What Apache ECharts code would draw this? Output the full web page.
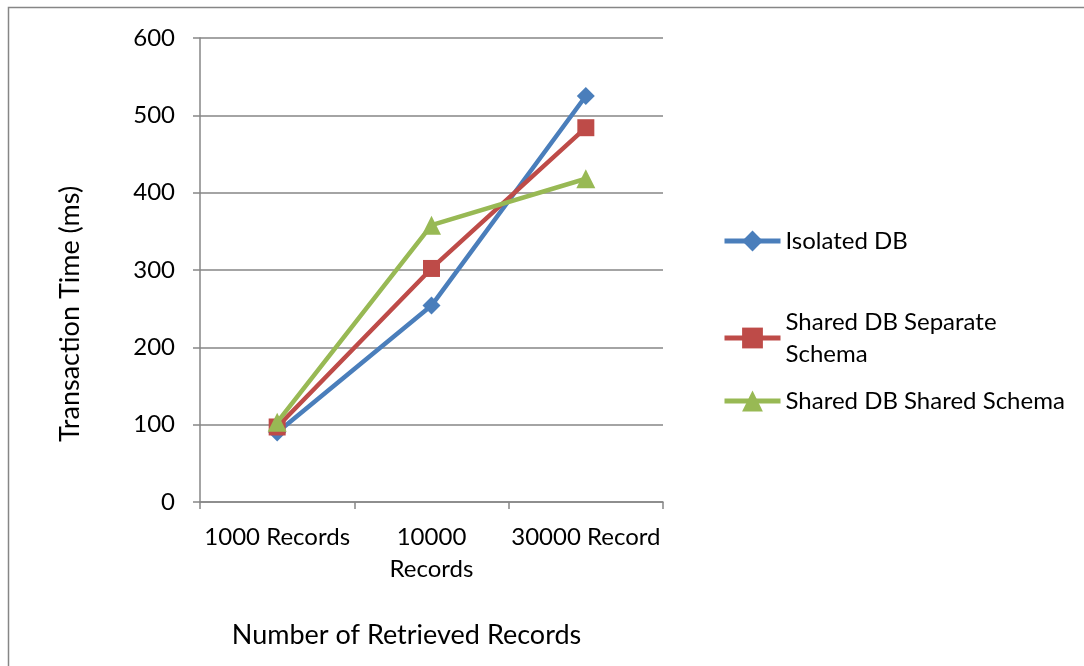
<!DOCTYPE html>
<html>
<head>
<meta charset="utf-8">
<script src="https://cdn.jsdelivr.net/npm/echarts@6/dist/echarts.min.js"></script>
<style>
  html, body { margin: 0; padding: 0; background: #fff; }
  #chart { width: 1084px; height: 666px; }
</style>
</head>
<body>
<div id="chart"></div>
<script>
// data
const categories = ['1000 Records', '10000 Records', '30000 Record'];
const isolatedDb = [90, 254, 525];
const sharedSeparate = [97, 302, 484];
const sharedShared = [103, 358, 418];
const yTicks = [0, 100, 200, 300, 400, 500, 600];

const FONT = 'Lato';
const AXIS_GRAY = '#868686';

let chart = echarts.init(document.getElementById('chart'));

// one legend per series so the vertical spacing can follow the original
function legendFor(name, top, fmt) {
  return {
    data: [name],
    left: 722,
    top: top,
    padding: 0,
    itemWidth: 56,
    itemHeight: 26,
    lineStyle: { width: 5 },
    formatter: fmt || '{name}',
    textStyle: { fontFamily: FONT, fontSize: 24, color: '#000', lineHeight: 32 }
  };
}

let option = {
  animation: false,
  backgroundColor: '#fff',
  graphic: [{
    type: 'rect',
    shape: { x: 8.5, y: 7.5, width: 1100, height: 700 },
    style: { fill: 'none', stroke: AXIS_GRAY, lineWidth: 1.5 },
    silent: true
  }],
  grid: { left: 200, right: 421, top: 38, bottom: 164 },
  legend: [
    legendFor('Isolated DB', 225),
    legendFor('Shared DB Separate Schema', 306, () => 'Shared DB Separate\nSchema'),
    legendFor('Shared DB Shared Schema', 385)
  ],
  xAxis: {
    type: 'category',
    data: categories,
    boundaryGap: true,
    name: 'Number of Retrieved Records',
    nameLocation: 'middle',
    nameGap: 120,
    nameTextStyle: { fontFamily: FONT, fontSize: 27, color: '#000', padding: [0, 50, 0, 0] },
    axisLine: { lineStyle: { color: AXIS_GRAY, width: 1.5 } },
    axisTick: { show: true, length: 7, alignWithLabel: false, lineStyle: { color: AXIS_GRAY, width: 1.5 } },
    axisLabel: {
      interval: 0,
      margin: 19,
      fontFamily: FONT,
      fontSize: 24,
      color: '#000',
      lineHeight: 32,
      formatter: v => v === '10000 Records' ? '10000\nRecords' : v
    }
  },
  yAxis: {
    type: 'value',
    min: yTicks[0],
    max: yTicks[yTicks.length - 1],
    interval: 100,
    name: 'Transaction Time (ms)',
    nameLocation: 'middle',
    nameGap: 116,
    nameTextStyle: { fontFamily: FONT, fontSize: 27, color: '#000', padding: [0, 88, 0, 0] },
    axisLine: { show: true, lineStyle: { color: AXIS_GRAY, width: 1.5 } },
    axisTick: { show: true, length: 7, lineStyle: { color: AXIS_GRAY, width: 1.5 } },
    splitLine: { lineStyle: { color: AXIS_GRAY, width: 1.5 } },
    axisLabel: { margin: 25, fontFamily: FONT, fontSize: 24, color: '#000' }
  },
  series: [
    {
      name: 'Isolated DB',
      type: 'line',
      data: isolatedDb,
      symbol: 'diamond',
      symbolSize: 18,
      color: '#4A7EBB',
      lineStyle: { width: 4.5 },
      z: 3
    },
    {
      name: 'Shared DB Separate Schema',
      type: 'line',
      data: sharedSeparate,
      symbol: 'rect',
      symbolSize: 17,
      color: '#BE4B48',
      lineStyle: { width: 4.5 },
      z: 4
    },
    {
      name: 'Shared DB Shared Schema',
      type: 'line',
      data: sharedShared,
      symbol: 'triangle',
      symbolSize: 19,
      color: '#98B954',
      lineStyle: { width: 4.5 },
      z: 5
    }
  ]
};

chart.setOption(option);
</script>
</body>
</html>
